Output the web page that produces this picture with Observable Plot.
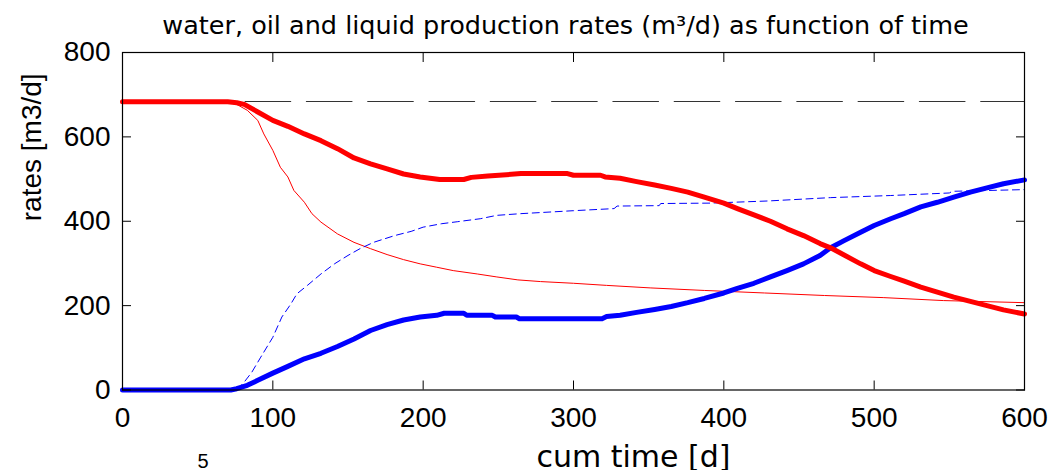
<!DOCTYPE html>
<html>
<head>
<meta charset="utf-8">
<script src="https://cdn.jsdelivr.net/npm/d3@7"></script>
<script src="https://cdn.jsdelivr.net/npm/@observablehq/plot@0.6"></script>
<style>
  html, body { margin: 0; padding: 0; background: #fff; }
  #chart { width: 1058px; height: 470px; overflow: hidden; }
</style>
</head>
<body>
<div id="chart"></div>
<script>
// Tick values
const xTicks = [0, 100, 200, 300, 400, 500, 600];
const yTicks = [0, 200, 400, 600, 800];

// Target liquid rate (m3/d)
const liquidTime = [0, 600];
const liquidRate = [684, 684];

// Oil rate, base case (thick red)
const oilTime = [0, 70, 76, 81, 90, 100, 110, 121, 132, 143, 154, 165, 176, 187, 198, 211, 227, 232, 243, 265, 296, 300, 318, 321, 331, 342, 354, 365, 376, 387, 400, 409, 420, 431, 442, 453, 464, 471, 480, 491, 500, 511, 520, 531, 542, 553, 564, 575, 586, 600];
const oilRate = [683, 683, 681, 677, 659, 639, 625, 607, 591, 572, 550, 536, 524, 512, 505, 499, 499, 504, 507, 513, 513, 509, 509, 505, 502, 494, 486, 478, 469, 457, 443, 430, 415, 400, 382, 366, 347, 337, 320, 299, 283, 269, 258, 244, 232, 220, 210, 200, 190, 180];

// Water rate, base case (thick blue)
const waterTime = [0, 72, 76, 83, 90, 100, 110, 121, 132, 143, 154, 165, 176, 187, 198, 209, 214, 227, 229, 246, 248, 262, 264, 319, 322, 331, 342, 354, 365, 376, 387, 400, 409, 420, 431, 442, 453, 464, 471, 480, 491, 500, 511, 520, 531, 542, 553, 564, 575, 586, 600];
const waterRate = [0, 0, 3, 11, 23, 40, 56, 74, 87, 103, 121, 141, 155, 166, 173, 177, 182, 182, 177, 177, 173, 173, 169, 169, 174, 177, 184, 191, 198, 207, 217, 230, 241, 253, 268, 283, 299, 319, 337, 354, 374, 390, 406, 418, 434, 445, 457, 469, 479, 489, 498];

// Oil rate, comparison case (thin red)
const oilRefTime = [0, 72, 76, 83, 90, 94, 100, 105, 110, 114, 121, 126, 132, 143, 154, 165, 176, 187, 198, 209, 220, 236, 249, 263, 278, 300, 322, 351, 387, 427, 467, 506, 546, 600];
const oilRefRate = [683, 683, 677, 663, 639, 607, 568, 528, 505, 473, 445, 418, 398, 370, 350, 335, 321, 309, 299, 291, 283, 275, 268, 261, 257, 253, 248, 242, 236, 230, 224, 219, 212, 207];

// Water rate, comparison case (thin dashed blue)
const waterRefTime = [0, 76, 81, 86, 92, 100, 106, 112, 116, 123, 132, 141, 150, 158, 167, 181, 192, 200, 212, 223, 238, 249, 265, 300, 327, 329, 357, 358, 391, 429, 471, 511, 550, 552, 600];
const waterRefRate = [0, 0, 19, 42, 78, 125, 173, 204, 228, 248, 275, 299, 319, 335, 350, 366, 376, 386, 394, 399, 406, 414, 418, 425, 430, 436, 437, 442, 443, 448, 456, 461, 467, 471, 475];

const titleText = "water, oil and liquid production rates (m³/d) as function of time";
const xLabel = "cum time [d]";
const yLabel = "rates [m3/d]";
const strayExponent = "5";

const toRows = (ts, vs) => ts.map((t, i) => ({t, v: vs[i]}));

const chart = Plot.plot({
  width: 1058,
  height: 470,
  marginLeft: 122,
  marginRight: 34,
  marginTop: 52,
  marginBottom: 80.5,
  style: {fontFamily: "'Liberation Sans', Arial, sans-serif", fontSize: "28px", color: "#000", background: "#fff", overflow: "visible"},
  x: {domain: [0, 600]},
  y: {domain: [0, 800]},
  marks: [
    // series
    Plot.line(toRows(liquidTime, liquidRate), {x: "t", y: "v", stroke: "#333", strokeWidth: 1.1, strokeDasharray: "45.6,15.7"}),
    Plot.line(toRows(oilRefTime, oilRefRate), {x: "t", y: "v", stroke: "#ff0000", strokeWidth: 1}),
    Plot.line(toRows(waterRefTime, waterRefRate), {x: "t", y: "v", stroke: "#0000ff", strokeWidth: 1, strokeDasharray: "7,4.5"}),
    Plot.line(toRows(waterTime, waterRate), {x: "t", y: "v", stroke: "#0000ff", strokeWidth: 5}),
    Plot.line(toRows(oilTime, oilRate), {x: "t", y: "v", stroke: "#ff0000", strokeWidth: 5}),
    // axes box with inward ticks
    Plot.frame({stroke: "#000", strokeWidth: 1.2}),
    Plot.axisX(xTicks, {anchor: "bottom", tickSize: -9, fill: "none", label: null}),
    Plot.axisX(xTicks, {anchor: "top", tickSize: -9, fill: "none", label: null}),
    Plot.axisY(yTicks, {anchor: "left", tickSize: -9, fill: "none", label: null}),
    Plot.axisY(yTicks, {anchor: "right", tickSize: -9, fill: "none", label: null}),
    Plot.axisX(xTicks, {anchor: "bottom", tickSize: 0, tickPadding: 17, fontSize: 28, label: null}),
    Plot.axisY(yTicks, {anchor: "left", tickSize: 0, tickPadding: 12, fontSize: 28, label: null}),
    // labels
    Plot.text([titleText], {frameAnchor: "top", dx: -8, dy: -27, fontSize: 25.5, fontFamily: "'DejaVu Sans', sans-serif", lineAnchor: "middle"}),
    Plot.text([yLabel], {frameAnchor: "left", dx: -90, rotate: -90, fontSize: 28, lineAnchor: "middle"}),
    Plot.text([xLabel], {frameAnchor: "bottom", dx: 60, dy: 56, fontSize: 30, fontFamily: "'DejaVu Sans', sans-serif", lineAnchor: "top"}),
    Plot.text([strayExponent], {frameAnchor: "bottom-left", dx: 75, dy: 64, fontSize: 20, lineAnchor: "top"})
  ]
});

document.getElementById("chart").appendChild(chart);
</script>
</body>
</html>
